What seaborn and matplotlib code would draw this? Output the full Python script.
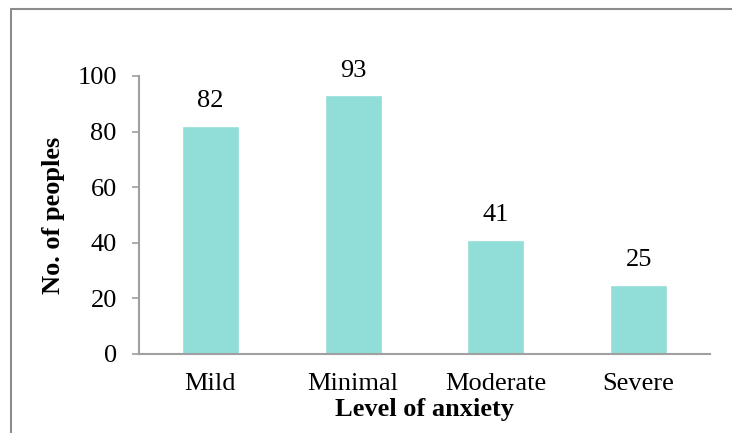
import matplotlib
matplotlib.use("Agg")
import matplotlib.pyplot as plt
import seaborn as sns
import pandas as pd
from matplotlib.lines import Line2D

categories = ["Mild", "Minimal", "Moderate", "Severe"]
values = [82, 93, 41, 25]
yticks = [0, 20, 40, 60, 80, 100]

sns.set_theme(style="white")
plt.rcParams['font.family'] = ['Liberation Serif', 'DejaVu Serif']
plt.rcParams['text.color'] = 'black'
plt.rcParams['xtick.color'] = 'black'
plt.rcParams['ytick.color'] = 'black'
plt.rcParams['axes.labelcolor'] = 'black'

df = pd.DataFrame({"level": categories, "count": values})

fig = plt.figure(figsize=(7.32, 4.33), dpi=100)
ax = fig.add_axes([139/732, 1-354/433, (710-139)/732, (354-76)/433])

sns.barplot(data=df, x="level", y="count", color="#91DDD8", saturation=1,
            width=0.4, ax=ax)

ax.set_ylim(0, 100)
ax.set_yticks(yticks)
ax.set_xlim(-0.5, 3.5)
for c in ax.containers:
    ax.bar_label(c, labels=[str(v) for v in values], padding=10, fontsize=19, color="black")

ax.tick_params(axis="y", length=5, width=1.2, color="#A0A0A0", left=True,
               labelsize=19, pad=11, labelcolor="black")
ax.tick_params(axis="x", length=0, labelsize=19, pad=14, labelcolor="black")
for s in ["top", "right"]:
    ax.spines[s].set_visible(False)
for s in ["left", "bottom"]:
    ax.spines[s].set_color("#A0A0A0")
    ax.spines[s].set_linewidth(1.5)

ax.set_xlabel("Level of anxiety", fontsize=19, fontweight="bold", labelpad=2, color="black")
ax.set_ylabel("No. of peoples", fontsize=19, fontweight="bold", labelpad=9, color="black")

# outer frame (left and top)
fig.add_artist(Line2D([10.5/732, 10.5/732], [0, 1-9/433], transform=fig.transFigure,
                      color="#8C8C8C", lw=1.5))
fig.add_artist(Line2D([10.5/732, 1], [1-9/433, 1-9/433], transform=fig.transFigure,
                      color="#8C8C8C", lw=1.5))

fig.savefig("out.png", dpi=100)
